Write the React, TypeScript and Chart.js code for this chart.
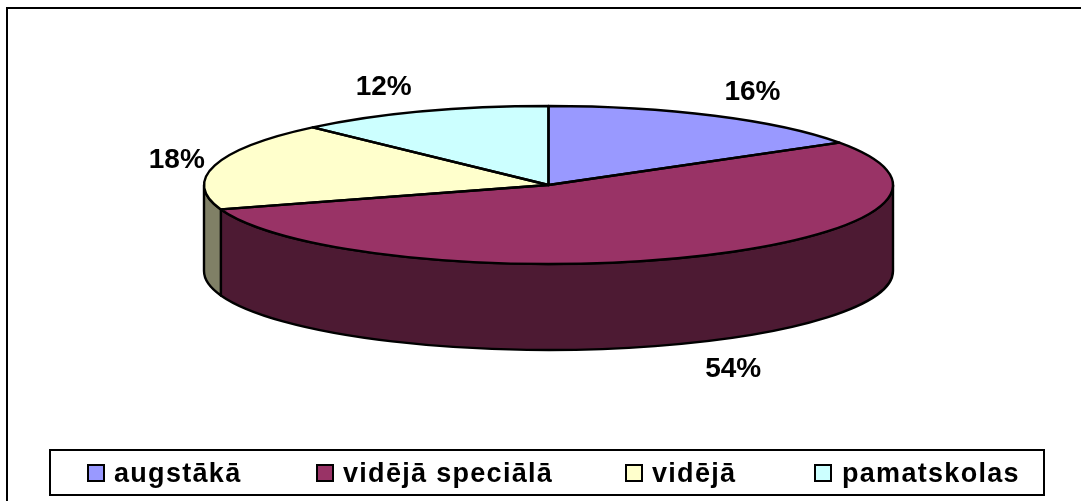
import React, { useEffect, useRef } from "react";
import { Chart, registerables } from "chart.js";

Chart.register(...registerables);

const categories = ["augstākā", "vidējā speciālā", "vidējā", "pamatskolas"];
const seriesValues = [16, 54, 18, 12];
const topColors = ["#9999FF", "#993366", "#FFFFCC", "#CCFFFF"];
const sideColors = ["#4D4D80", "#4D1A33", "#808066", "#668080"];
const legendSwatchX = [88, 317, 626, 815];
const legendTextX = [114, 343, 652, 842];

const FONT = '"Liberation Sans", Arial, sans-serif';
const RX = 344.5;
const DEPTH = 86;

const pie3d = {
  id: "pie3d",
  beforeDatasetsDraw(chart: any) {
    const { ctx } = chart;
    const arcs = chart.getDatasetMeta(0).data;
    const cx = arcs[0].x;
    const cy = arcs[0].y;
    const ry = arcs[0].outerRadius;
    // chart frame and legend box
    ctx.save();
    ctx.strokeStyle = "#000";
    ctx.lineWidth = 2;
    ctx.strokeRect(7, 8, 1200, 600);
    ctx.fillStyle = "#fff";
    ctx.fillRect(50, 450, 994, 45);
    ctx.strokeRect(50, 450, 994, 45);
    // legend
    ctx.font = `bold 27px ${FONT}`;
    ctx.textBaseline = "alphabetic";
    categories.forEach((name, i) => {
      ctx.fillStyle = topColors[i];
      ctx.fillRect(legendSwatchX[i], 465, 16, 16);
      ctx.strokeRect(legendSwatchX[i], 465, 16, 16);
      ctx.fillStyle = "#000";
      ctx.letterSpacing = "1.3px";
      ctx.fillText(name, legendTextX[i], 482);
      ctx.letterSpacing = "0px";
    });
    // side walls, front half of the pie only
    arcs.forEach((a: any, i: number) => {
      const s = Math.max(a.startAngle, 0);
      const e = Math.min(a.endAngle, Math.PI);
      if (e <= s) return;
      ctx.beginPath();
      ctx.ellipse(cx, cy, RX, ry, 0, s, e);
      ctx.lineTo(cx + RX * Math.cos(e), cy + DEPTH + ry * Math.sin(e));
      ctx.ellipse(cx, cy + DEPTH, RX, ry, 0, e, s, true);
      ctx.closePath();
      ctx.fillStyle = sideColors[i];
      ctx.fill();
      ctx.lineJoin = "round";
      ctx.lineWidth = 2.4;
      ctx.stroke();
    });
    ctx.restore();
    // stretch the round pie into the ellipse
    ctx.save();
    ctx.translate(cx, cy);
    ctx.scale(RX / ry, 1);
    ctx.translate(-cx, -cy);
  },
  afterDatasetsDraw(chart: any) {
    const { ctx } = chart;
    ctx.restore();
    const arcs = chart.getDatasetMeta(0).data;
    const cx = arcs[0].x;
    const cy = arcs[0].y;
    const ry = arcs[0].outerRadius;
    ctx.save();
    ctx.strokeStyle = "#000";
    ctx.lineWidth = 2.4;
    ctx.lineJoin = "round";
    arcs.forEach((a: any) => {
      ctx.beginPath();
      ctx.moveTo(cx, cy);
      ctx.ellipse(cx, cy, RX, ry, 0, a.startAngle, a.endAngle);
      ctx.closePath();
      ctx.stroke();
    });
    // percentage labels
    ctx.font = `bold 28px ${FONT}`;
    ctx.fillStyle = "#000";
    ctx.textAlign = "center";
    ctx.textBaseline = "middle";
    arcs.forEach((a: any, i: number) => {
      const mid = (a.startAngle + a.endAngle) / 2;
      const c = Math.cos(mid);
      const sn = Math.sin(mid);
      const x = cx + RX * c + Math.sign(c) * 38;
      const y = cy + ry * sn + sn * 28 + (sn > 0 ? DEPTH : 0) + 1.5;
      ctx.fillText(`${seriesValues[i]}%`, x, y);
    });
    ctx.restore();
  },
};

export default function App() {
  const ref = useRef<HTMLCanvasElement>(null);
  useEffect(() => {
    const chart = new Chart(ref.current!, {
      type: "pie",
      data: {
        labels: categories,
        datasets: [{ data: seriesValues, backgroundColor: topColors, borderWidth: 0 }],
      },
      options: {
        animation: false,
        responsive: false,
        layout: { padding: { left: 204, right: 188, top: 106, bottom: 237 } },
        plugins: { legend: { display: false }, tooltip: { enabled: false } },
      },
      plugins: [pie3d],
    } as any);
    return () => chart.destroy();
  }, []);
  return (
    <div style={{ position: "fixed", left: 0, top: 0, width: 1081, height: 501, background: "#fff", overflow: "hidden" }}>
      <canvas ref={ref} width={1081} height={501} style={{ display: "block" }} />
    </div>
  );
}
